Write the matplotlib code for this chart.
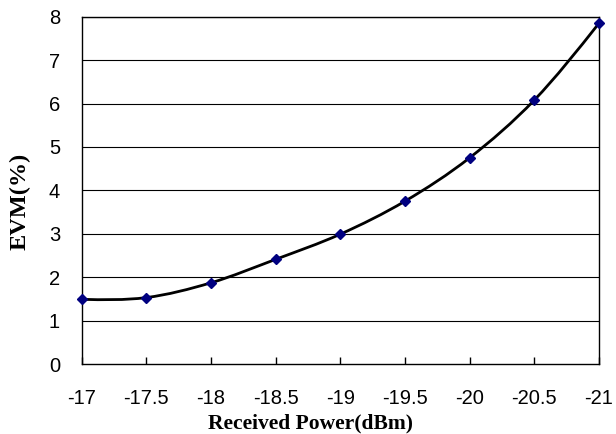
import matplotlib
matplotlib.use("Agg")
import matplotlib.pyplot as plt
from matplotlib.path import Path
from matplotlib.patches import PathPatch
import numpy as np

power_dbm = [-17, -17.5, -18, -18.5, -19, -19.5, -20, -20.5, -21]
evm_pct = [1.49, 1.53, 1.87, 2.41, 2.99, 3.75, 4.75, 6.08, 7.85]
x_ticks = [-17, -17.5, -18, -18.5, -19, -19.5, -20, -20.5, -21]
x_tick_labels = ["-17", "-17.5", "-18", "-18.5", "-19", "-19.5", "-20", "-20.5", "-21"]
y_ticks = [0, 1, 2, 3, 4, 5, 6, 7, 8]

fig = plt.figure(figsize=(6.16, 4.34), dpi=100)
ax = fig.add_axes([81.5 / 616, 1 - 364 / 434, (599 - 81.5) / 616, (364 - 16.7) / 434])

ax.set_xlim(-17, -21)
ax.set_ylim(0, 8)

for y in y_ticks[1:]:
    ax.axhline(y, color="black", lw=0.8, zorder=1)

# smooth curve (Bezier, Excel-like smoothing) through the data points
xs = np.array(power_dbm, dtype=float)
ys = np.array(evm_pct, dtype=float)
n = len(xs)
verts = [(xs[0], ys[0])]
codes = [Path.MOVETO]
for i in range(n - 1):
    p0 = np.array([xs[max(i - 1, 0)], ys[max(i - 1, 0)]])
    p1 = np.array([xs[i], ys[i]])
    p2 = np.array([xs[i + 1], ys[i + 1]])
    p3 = np.array([xs[min(i + 2, n - 1)], ys[min(i + 2, n - 1)]])
    c2 = p2 - (p3 - p1) / 6.0
    if i == 0:
        c1 = p1 + (c2 - p1) * 0.5
    else:
        c1 = p1 + (p2 - p0) / 6.0
    if i == n - 2:
        c2 = p2 - (p2 - c1) * 0.5
    verts += [tuple(c1), tuple(c2), tuple(p2)]
    codes += [Path.CURVE4, Path.CURVE4, Path.CURVE4]
patch = PathPatch(Path(verts, codes), facecolor="none", edgecolor="black", lw=2.0, zorder=3,
                  clip_on=False)
ax.add_patch(patch)

ax.plot(power_dbm, evm_pct, linestyle="none", marker="D", markersize=5.5,
        markerfacecolor="#000080", markeredgecolor="#000080", zorder=4, clip_on=False)

ax.set_xticks(x_ticks)
ax.set_xticklabels(x_tick_labels)
ax.set_yticks(y_ticks)
ax.tick_params(axis="x", direction="in", length=5, width=1, color="black", pad=18,
               labelsize=14.5, labelfontfamily="Liberation Sans")
ax.tick_params(axis="y", direction="in", length=0, width=1, pad=15.5,
               labelsize=14.5, labelfontfamily="Liberation Sans")

for s in ax.spines.values():
    s.set_color("black")
    s.set_linewidth(1.0)

ax.set_xlabel("Received Power(dBm)", fontfamily="Liberation Serif", fontweight="bold",
              fontsize=15.5)
ax.set_ylabel("EVM(%)", fontfamily="Liberation Serif", fontweight="bold",
              fontsize=17.5)
ax.xaxis.set_label_coords(0.4425, -0.142)
ax.yaxis.set_label_coords(-0.098, 0.469)

fig.savefig("out.png", dpi=100)
